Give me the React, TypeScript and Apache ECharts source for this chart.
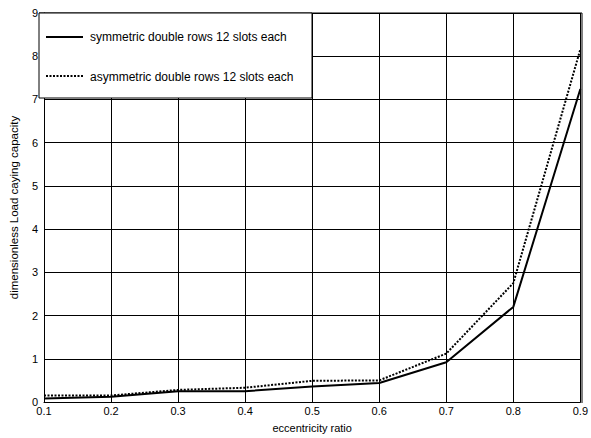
import React, { useEffect, useRef } from "react";
import * as echarts from "echarts";

const xTicks = [0.1, 0.2, 0.3, 0.4, 0.5, 0.6, 0.7, 0.8, 0.9];
const symmetric = [0.08, 0.12, 0.25, 0.25, 0.36, 0.44, 0.92, 2.2, 7.24];
const asymmetric = [0.15, 0.15, 0.28, 0.33, 0.49, 0.5, 1.12, 2.75, 8.16];
const seriesNames = [
  "symmetric double rows 12 slots each",
  "asymmetric double rows 12 slots each",
];

export default function App() {
  const ref = useRef<HTMLDivElement>(null);
  useEffect(() => {
    if (!ref.current) return;
    const chart = echarts.init(ref.current, null, { renderer: "svg" });
    const font = "Liberation Sans, Arial, sans-serif";
    chart.setOption({
      animation: false,
      backgroundColor: "#fff",
      grid: { left: 39, right: 9, top: 13, bottom: 35, show: false },
      xAxis: {
        type: "value",
        min: 0.1,
        max: 0.9,
        interval: 0.1,
        name: "eccentricity ratio",
        nameLocation: "middle",
        nameGap: 20,
        nameTextStyle: { fontFamily: font, fontSize: 11, color: "#000" },
        axisLine: { show: true, onZero: false, lineStyle: { color: "#000", width: 1 } },
        axisTick: { show: true, inside: true, length: 4, lineStyle: { color: "#000" } },
        axisLabel: {
          fontFamily: font,
          fontSize: 11,
          color: "#000",
          margin: 3,
          formatter: (v: number) => (Math.round(v * 10) / 10).toString(),
        },
        splitLine: { show: true, lineStyle: { color: "#000", width: 1 } },
      },
      yAxis: {
        type: "value",
        min: 0,
        max: 9,
        interval: 1,
        name: "dimensionless Load caying capacity",
        nameLocation: "middle",
        nameGap: 24,
        nameTextStyle: { fontFamily: font, fontSize: 11.5, color: "#000" },
        axisLine: { show: true, lineStyle: { color: "#000", width: 1 } },
        axisTick: { show: true, inside: true, length: 4, lineStyle: { color: "#000" } },
        axisLabel: { fontFamily: font, fontSize: 11, color: "#000", margin: 6 },
        splitLine: { show: true, lineStyle: { color: "#000", width: 1 } },
      },
      series: [
        {
          name: seriesNames[0],
          type: "line",
          data: xTicks.map((x, i) => [x, symmetric[i]]),
          showSymbol: false,
          lineStyle: { color: "#000", width: 2, type: "solid" },
          z: 5,
        },
        {
          name: seriesNames[1],
          type: "line",
          data: xTicks.map((x, i) => [x, asymmetric[i]]),
          showSymbol: false,
          lineStyle: { color: "#000", width: 2, type: [2, 1.5] },
          z: 5,
        },
      ],
      graphic: [
        {
          type: "rect",
          shape: { x: 39, y: 13, width: 273, height: 85 },
          style: { fill: "#fff", stroke: "#000", lineWidth: 1 },
          z: 100,
        },
        {
          type: "line",
          shape: { x1: 46, y1: 37, x2: 83, y2: 37 },
          style: { stroke: "#000", lineWidth: 2 },
          z: 101,
        },
        {
          type: "line",
          shape: { x1: 46, y1: 76, x2: 83, y2: 76 },
          style: { stroke: "#000", lineWidth: 2, lineDash: [2, 1.5] },
          z: 101,
        },
        {
          type: "text",
          x: 90,
          y: 37,
          style: {
            text: seriesNames[0],
            fontFamily: font,
            fontSize: 12,
            fill: "#000",
            verticalAlign: "middle",
          },
          z: 101,
        },
        {
          type: "text",
          x: 90,
          y: 77,
          style: {
            text: seriesNames[1],
            fontFamily: font,
            fontSize: 12,
            fill: "#000",
            verticalAlign: "middle",
          },
          z: 101,
        },
        {
          type: "line",
          shape: { x1: 582, y1: 13, x2: 582, y2: 403 },
          style: { stroke: "#000", lineWidth: 1 },
          z: 99,
        },
        {
          type: "line",
          shape: { x1: 39, y1: 13, x2: 582, y2: 13 },
          style: { stroke: "#000", lineWidth: 1 },
          z: 99,
        },
      ],
    });
    return () => chart.dispose();
  }, []);
  return (
    <div
      ref={ref}
      style={{ position: "absolute", left: 0, top: 0, width: 591, height: 438 }}
    />
  );
}
